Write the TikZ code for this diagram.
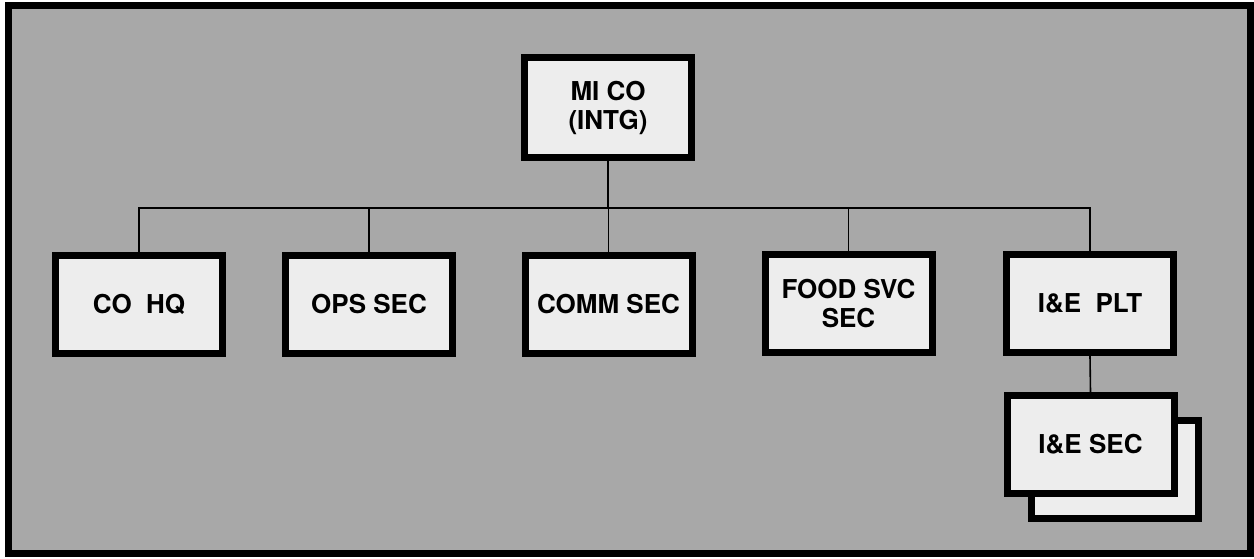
\documentclass[tikz,border=0pt]{standalone}
\usepackage{fontspec}
\setmainfont{TeX Gyre Heros}
\begin{document}
\begin{tikzpicture}[x=1pt,y=-1pt,
  orgbox/.style={draw=black, line width=7pt, fill=boxfill, minimum width=167pt, minimum height=98pt,
    inner sep=0pt, align=center, font=\fontsize{26}{29}\selectfont\bfseries},
  link/.style={draw=black, line width=1.6pt}]
\definecolor{bgfill}{gray}{0.66}
\definecolor{boxfill}{gray}{0.93}
\useasboundingbox (0,0) rectangle (1254,558);
\fill[white] (0,0) rectangle (1254,558);
\draw[line width=7pt, fill=bgfill] (8,5) rectangle (1250,553);
% nodes
\node[orgbox, minimum height=100pt] (mi) at (608,107.5) {MI CO\\(INTG)};
\node[orgbox] (cohq) at (139,304.5) {CO\ \ HQ};
\node[orgbox] (ops) at (369,304.5) {OPS SEC};
\node[orgbox] (comm) at (608.5,304.5) {COMM SEC};
\node[orgbox] (food) at (848.5,303.5) {FOOD SVC\\SEC};
\node[orgbox] (iep) at (1090,303.5) {I\&E\ \ PLT};
\node[orgbox] (iesback) at (1115,469) {};
\node[orgbox] (ies) at (1090.5,444.5) {I\&E SEC};
\coordinate (bus) at (608,208);
% connectors
\draw[link] (mi.south) -- (mi.south |- bus);
\draw[link] (cohq.north) |- (iep.north |- bus) -- (iep.north);
\draw[link] (ops.north) -- (ops.north |- bus);
\draw[link] (comm.north) -- (comm.north |- bus);
\draw[link] (food.north) -- (food.north |- bus);
\draw[link] (iep.south) -- (ies.north);
\end{tikzpicture}
\end{document}
